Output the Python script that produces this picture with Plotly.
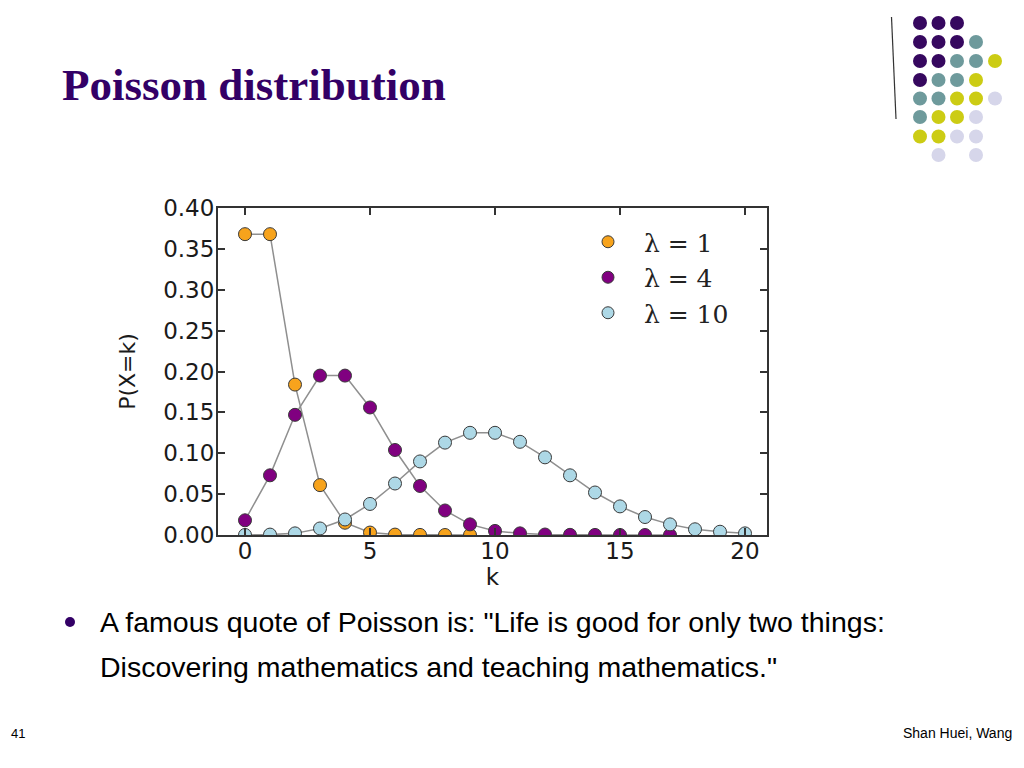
import plotly.graph_objects as go

# ---- data ----
k1 = list(range(0, 10))
p1 = [0.368, 0.368, 0.184, 0.061, 0.015, 0.003, 0.0005, 0.0001, 0.0, 0.0]
k4 = list(range(0, 18))
p4 = [0.018, 0.073, 0.147, 0.195, 0.195, 0.156, 0.104, 0.060, 0.030, 0.013,
      0.005, 0.002, 0.0006, 0.0002, 0.0001, 0.0, 0.0, 0.0]
k10 = list(range(0, 21))
p10 = [0.00005, 0.0005, 0.002, 0.008, 0.019, 0.038, 0.063, 0.090, 0.113, 0.125,
       0.125, 0.114, 0.095, 0.073, 0.052, 0.035, 0.022, 0.013, 0.007, 0.004, 0.002]
series_names = ["λ = 1", "λ = 4", "λ = 10"]
series_colors = ["#f7a31c", "#800080", "#add8e6"]
x_ticks = [0, 5, 10, 15, 20]
y_ticks = [0.0, 0.05, 0.10, 0.15, 0.20, 0.25, 0.30, 0.35, 0.40]

# slide decoration dot grid (columns x px, rows y px, colour codes)
dot_cols = [920, 938.5, 957, 976, 995]
dot_rows = [23, 42, 61, 80, 98.5, 117, 136.5, 155]
dot_grid = ["PPP..", "PPPT.", "PPTTY", "PTTY.", "TTYYL", "TYYL.", "YYLL.", ".L.L."]
dot_palette = {"P": "#36085f", "T": "#6e9a9c", "Y": "#cccc14", "L": "#d6d6ea"}

# figure fits inside the page's 8px body margin
OFF = 8
W, H = 1024 - 2 * OFF, 768 - 2 * OFF


def px(x):
    return (x - OFF) / W


def py(y):
    return 1 - (y - OFF) / H


fig = go.Figure()
for ks, ps, name, col in zip([k1, k4, k10], [p1, p4, p10], series_names, series_colors):
    fig.add_trace(go.Scatter(
        x=ks, y=ps, mode="lines+markers", showlegend=False,
        line=dict(color="#8f8f8f", width=1.5),
        marker=dict(size=13, color=col, line=dict(color="#3a3a3a", width=1)),
    ))
for i, (name, col) in enumerate(zip(series_names, series_colors)):
    fig.add_trace(go.Scatter(
        x=[None], y=[None], mode="markers", name="\u00a0\u00a0" + name, legendgroup=str(i),
        marker=dict(size=12, color=col, line=dict(color="#3a3a3a", width=1)),
    ))

shapes = []
for r, row in enumerate(dot_grid):
    for c, code in enumerate(row):
        if code == ".":
            continue
        cx, cy, rad = dot_cols[c], dot_rows[r], 7
        shapes.append(dict(type="circle", xref="paper", yref="paper",
                           x0=px(cx - rad), x1=px(cx + rad),
                           y0=py(cy + rad), y1=py(cy - rad),
                           fillcolor=dot_palette[code], line=dict(width=0)))
shapes.append(dict(type="line", xref="paper", yref="paper",
                   x0=px(891.5), y0=py(17), x1=px(896), y1=py(119),
                   line=dict(color="#333333", width=1.2)))
# bullet
shapes.append(dict(type="circle", xref="paper", yref="paper",
                   x0=px(65), x1=px(75), y0=py(627), y1=py(617),
                   fillcolor="#330066", line=dict(width=0)))

annotations = [
    dict(text="<b>Poisson distribution</b>", x=px(60), y=py(85), xanchor="left", yanchor="middle",
         font=dict(family="Liberation Serif", size=45, color="#330066")),
    dict(text='A famous quote of Poisson is: "Life is good for only two things:', x=px(98), y=py(622),
         xanchor="left", yanchor="middle", font=dict(family="Liberation Sans", size=28.5, color="#000000")),
    dict(text='Discovering mathematics and teaching mathematics."', x=px(98), y=py(667),
         xanchor="left", yanchor="middle", font=dict(family="Liberation Sans", size=28.5, color="#000000")),
    dict(text="41", x=px(9), y=py(733), xanchor="left", yanchor="middle",
         font=dict(family="Liberation Sans", size=13, color="#000000")),
    dict(text="Shan Huei, Wang", x=px(1014), y=py(733), xanchor="right", yanchor="middle",
         font=dict(family="Liberation Sans", size=14, color="#000000")),
]
for a in annotations:
    a.update(xref="paper", yref="paper", showarrow=False)

axis_common = dict(showline=True, linecolor="#333333", linewidth=2, mirror="ticks",
                   ticks="inside", ticklen=7, tickwidth=1.5, tickcolor="#333333",
                   showgrid=False, zeroline=False, automargin=False,
                   tickfont=dict(family="DejaVu Sans", size=23, color="#1a1a1a"))

fig.update_layout(
    width=W, height=H, margin=dict(l=0, r=0, t=0, b=0, pad=0, autoexpand=False),
    paper_bgcolor="white", plot_bgcolor="white",
    xaxis=dict(domain=[px(218), px(767)], range=[-1.08, 20.88], tickvals=x_ticks,
               ticklabelstandoff=-6,
               title=dict(text="k", font=dict(family="DejaVu Sans", size=23, color="#1a1a1a"), standoff=0),
               **axis_common),
    yaxis=dict(domain=[py(535), py(208)], range=[0, 0.40], tickvals=y_ticks, tickformat=".2f",
               ticklabelstandoff=-3,
               title=dict(text="P(X=k)", font=dict(family="DejaVu Sans", size=22, color="#1a1a1a"), standoff=21),
               **axis_common),
    legend=dict(x=px(588), y=py(219), xanchor="left", yanchor="top", bgcolor="rgba(0,0,0,0)",
                font=dict(family="DejaVu Serif", size=25, color="#222222"),
                traceorder="grouped", tracegroupgap=0),
    shapes=shapes, annotations=annotations, showlegend=True,
)

fig.write_html("out.html")
